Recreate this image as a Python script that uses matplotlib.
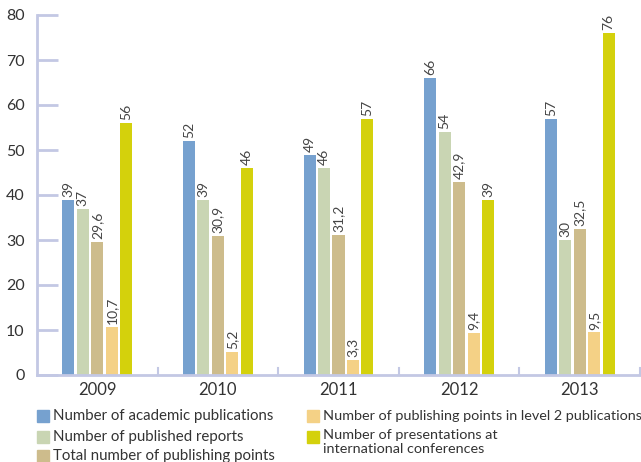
import matplotlib.pyplot as plt
from matplotlib.patches import Rectangle

years = ["2009", "2010", "2011", "2012", "2013"]
series_names = [
    "Number of academic publications",
    "Number of published reports",
    "Total number of publishing points",
    "Number of publishing points in level 2 publications",
    "Number of presentations at\ninternational conferences",
]
academic = [39, 52, 49, 66, 57]
reports = [37, 39, 46, 54, 30]
points_total = [29.6, 30.9, 31.2, 42.9, 32.5]
points_level2 = [10.7, 5.2, 3.3, 9.4, 9.5]
presentations = [56, 46, 57, 39, 76]
colors = ["#76a1cf", "#c9d5b3", "#cdbc8c", "#f4d186", "#d4d10c"]

series = [academic, reports, points_total, points_level2, presentations]
axis_col = "#c3c8e4"
text_col = "#333333"
plt.rcParams['font.family'] = ['Lato', 'DejaVu Sans']

fig = plt.figure(figsize=(6.41, 4.62), dpi=100)
W, H = 641, 462
ax = fig.add_axes([37 / W, (H - 375) / H, (640 - 37) / W, (375 - 15) / H])

bw = 0.1
step = 0.12
for i, (vals, c) in enumerate(zip(series, colors)):
    xs = [k + (i - 2) * step for k in range(len(years))]
    ax.bar(xs, vals, width=bw, color=c, zorder=2)
    for x, v in zip(xs, vals):
        lab = f"{v:g}".replace(".", ",")
        ax.text(x, v + 0.6, lab, rotation=90, ha="center", va="bottom",
                fontsize=10, color="#444444")

ax.set_xlim(-0.5, len(years) - 0.5)
ax.set_ylim(0, 80)
for s in ["top", "right"]:
    ax.spines[s].set_visible(False)
for s in ["left", "bottom"]:
    ax.spines[s].set_color(axis_col)
    ax.spines[s].set_linewidth(2)

ax.set_yticks(range(0, 81, 10))
ax.tick_params(axis="y", direction="in", length=15, width=2, color=axis_col,
               labelsize=11.5, labelcolor=text_col, pad=9)
ax.set_xticks(range(len(years)))
ax.set_xticklabels(years)
ax.tick_params(axis="x", length=0, labelsize=12, labelcolor=text_col, pad=5)
for b in [k + 0.5 for k in range(len(years))]:
    ax.plot([b, b], [0, 1.6], color=axis_col, lw=1.5, clip_on=False, zorder=3)

# legend
pos = [(37, 416), (37, 437), (37, 456), (307, 416), (307, 437)]
for (px, py), name, c in zip(pos, series_names, colors):
    fig.patches.append(Rectangle((px / W, (H - py - 6) / H), 12 / W, 12 / H,
                                 transform=fig.transFigure, color=c))
    fs = 10.4 if px > 100 else 10.8
    if "\n" in name:
        fig.text((px + 16) / W, (H - py + 8) / H, name, fontsize=fs,
                 color=text_col, va="top", linespacing=1.2)
    else:
        fig.text((px + 16) / W, (H - py) / H, name, fontsize=fs,
                 color=text_col, va="center")

fig.savefig("out.png", dpi=100)
